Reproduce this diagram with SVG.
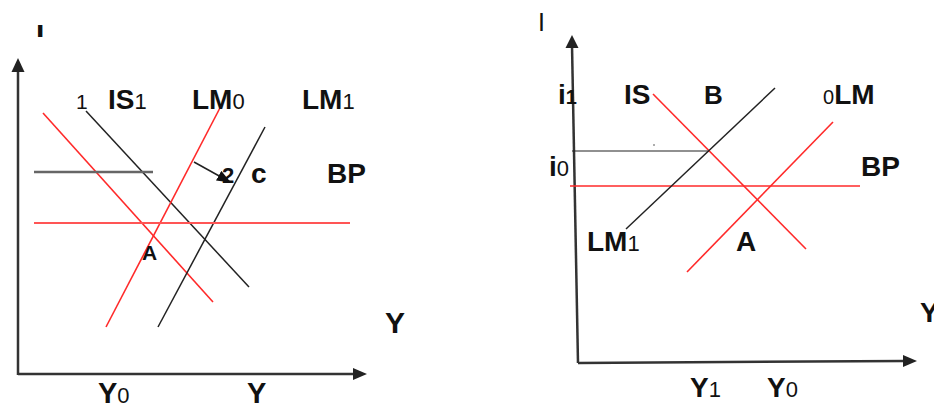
<svg xmlns="http://www.w3.org/2000/svg" width="934" height="408" viewBox="0 0 934 408">
<style>
.t{font-family:"Liberation Sans",Arial,sans-serif;font-weight:bold;fill:#111}
.r{font-weight:normal}
.ax{stroke:#333;stroke-width:2.5;fill:none}
.red{stroke:#ff2a2a;stroke-width:1.6;fill:none}
.blk{stroke:#222;stroke-width:1.5;fill:none}
.ah{fill:#222}
</style>
<defs>
<marker id="arr" markerWidth="14" markerHeight="11" refX="13" refY="5.5" orient="auto" markerUnits="userSpaceOnUse">
<path d="M0,0 L14,5.5 L0,11 z" fill="#111"/>
</marker>
<clipPath id="clipI"><rect x="30" y="25" width="20" height="12"/></clipPath>
</defs>
<rect width="934" height="408" fill="#fff"/>

<g id="left-panel">
<g id="left-axes">
<line class="ax" x1="18" y1="70" x2="18" y2="375"/>
<polygon class="ah" points="18,58 11.5,72 24.5,72"/>
<line class="ax" x1="18" y1="374" x2="355" y2="374"/>
<polygon class="ah" points="367,374 353,368 353,380"/>
<text class="t" x="36" y="38" font-size="30" clip-path="url(#clipI)">I</text>
</g>
<g id="left-curves">
<line class="red" x1="43" y1="113" x2="213" y2="302"/>
<line class="blk" x1="86" y1="111" x2="249" y2="287"/>
<line class="red" x1="106" y1="327" x2="222" y2="104"/>
<line class="blk" x1="158" y1="327" x2="265" y2="127"/>
<line x1="34" y1="172" x2="153" y2="172" stroke="#666" stroke-width="2.5"/>
<line x1="34" y1="223" x2="350" y2="223" stroke="#ff5555" stroke-width="2.2"/>
</g>
<g id="left-connectors">
<line x1="194" y1="162" x2="230" y2="182" stroke="#222" stroke-width="1.5" marker-end="url(#arr)"/>
</g>
<g id="left-labels">
<text class="t r" x="76" y="109" font-size="21">1</text>
<text class="t" x="108" y="109" font-size="28">IS<tspan class="r" font-size="22">1</tspan></text>
<text class="t" x="192" y="109" font-size="28">LM<tspan class="r" font-size="22">0</tspan></text>
<text class="t" x="302" y="109" font-size="28">LM<tspan class="r" font-size="22">1</tspan></text>
<text class="t" x="222" y="183" font-size="22">2</text>
<text class="t" x="251" y="183" font-size="28">c</text>
<text class="t" x="327" y="183" font-size="28">BP</text>
<text class="t" x="142" y="260" font-size="21">A</text>
<text class="t" x="385" y="333" font-size="30">Y</text>
<text class="t" x="98" y="403" font-size="29">Y<tspan class="r" font-size="22">0</tspan></text>
<text class="t" x="247" y="403" font-size="29">Y</text>
</g>
</g>

<g id="right-panel">
<g id="right-axes">
<line class="ax" x1="572" y1="45" x2="578" y2="363"/>
<polygon class="ah" points="572,35 565.5,48 578.5,48"/>
<line class="ax" x1="578" y1="363" x2="905" y2="361"/>
<polygon class="ah" points="917,361 903,355 903,367"/>
<text class="t r" x="538" y="31" font-size="25">I</text>
</g>
<g id="right-curves">
<line x1="572" y1="151" x2="709" y2="151" stroke="#222" stroke-width="1.2"/>
<circle cx="654" cy="145" r="0.8" fill="#444"/>
<line class="red" x1="570" y1="186" x2="860" y2="186"/>
<line class="red" x1="653" y1="94" x2="806" y2="249"/>
<line class="blk" x1="626" y1="229" x2="775" y2="88"/>
<line class="red" x1="687" y1="272" x2="833" y2="122"/>
</g>
<g id="right-labels">
<text class="t" x="558" y="104" font-size="28">i<tspan font-size="20">1</tspan></text>
<text class="t" x="624" y="104" font-size="28">IS</text>
<text class="t" x="704" y="104" font-size="26">B</text>
<text class="t" x="823" y="104" font-size="28"><tspan class="r" font-size="20">0</tspan>LM</text>
<text class="t" x="549" y="176" font-size="28">i<tspan class="r" font-size="22">0</tspan></text>
<text class="t" x="861" y="176" font-size="28">BP</text>
<text class="t" x="587" y="251" font-size="28">LM<tspan class="r" font-size="22">1</tspan></text>
<text class="t" x="736" y="251" font-size="28">A</text>
<text class="t" x="920" y="322" font-size="28">Y</text>
<text class="t" x="690" y="397" font-size="28">Y<tspan class="r" font-size="22">1</tspan></text>
<text class="t" x="767" y="397" font-size="28">Y<tspan class="r" font-size="22">0</tspan></text>
</g>
</g>
</svg>
